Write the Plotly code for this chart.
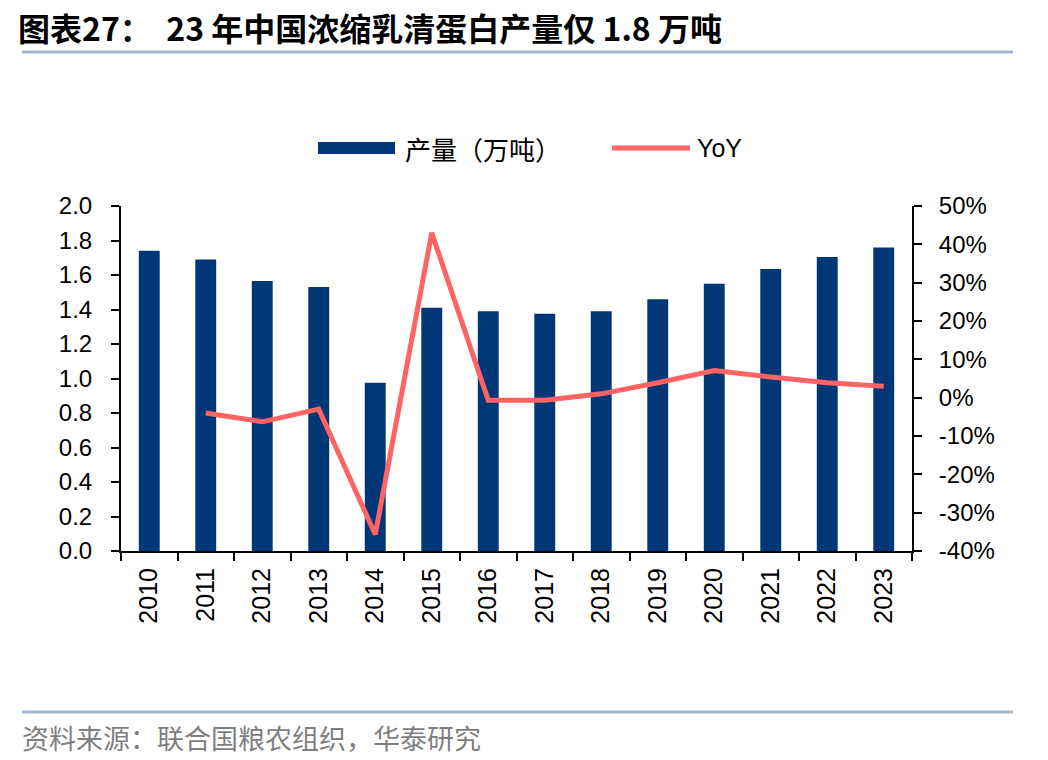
import plotly.graph_objects as go

years = ["2010", "2011", "2012", "2013", "2014", "2015", "2016",
         "2017", "2018", "2019", "2020", "2021", "2022", "2023"]
output_wt = [1.74, 1.69, 1.565, 1.53, 0.975, 1.41, 1.39,
             1.375, 1.39, 1.46, 1.55, 1.635, 1.705, 1.76]
yoy_pct = [None, -4.0, -6.3, -3.0, -35.7, 43.0, -0.7,
           -0.7, 1.0, 3.9, 7.1, 5.4, 3.9, 3.0]
left_ticks = [0.0, 0.2, 0.4, 0.6, 0.8, 1.0, 1.2, 1.4, 1.6, 1.8, 2.0]
left_labels = ["0.0", "0.2", "0.4", "0.6", "0.8", "1.0", "1.2", "1.4", "1.6", "1.8", "2.0"]
right_ticks = [-40, -30, -20, -10, 0, 10, 20, 30, 40, 50]
right_labels = ["-40%", "-30%", "-20%", "-10%", "0%", "10%", "20%", "30%", "40%", "50%"]

W, H = 1048, 760
L, R, T, B = 121, 912, 206, 551


def px(x):
    return (x - L) / (R - L)


def py(y):
    return (B - y) / (B - T)


BLUE = "#003777"
RED = "#FF6464"
NUM_FONT = "Liberation Sans, Arial, sans-serif"
CJK_FONT = "Noto Sans CJK SC, sans-serif"
RULE = "#A3B5CB"

fig = go.Figure()
fig.add_trace(go.Bar(
    x=years, y=output_wt, name="产量（万吨）",
    marker=dict(color=BLUE, line=dict(width=0)),
    yaxis="y",
))
fig.add_trace(go.Scatter(
    x=years, y=yoy_pct, name="YoY", mode="lines",
    line=dict(color=RED, width=5),
    yaxis="y2",
))

axis_common = dict(
    showline=True, linecolor="black", linewidth=2,
    ticks="outside", ticklen=8, tickwidth=2, tickcolor="black",
    showgrid=False, zeroline=False, automargin=False,
    tickfont=dict(family=NUM_FONT, size=24, color="black"),
)

fig.update_layout(
    width=W, height=H,
    margin=dict(l=L, r=W - R, t=T, b=H - B, pad=0, autoexpand=False),
    paper_bgcolor="white", plot_bgcolor="white",
    bargap=0.63,
    font=dict(family=NUM_FONT, size=24, color="black"),
    showlegend=False,
    title=dict(
        text="<b>图表27：  23 年中国浓缩乳清蛋白产量仅 1.8 万吨</b>",
        x=18 / W, xref="container", xanchor="left",
        y=1 - 30 / H, yref="container", yanchor="middle",
        font=dict(family=CJK_FONT, size=32, color="black"),
    ),
    xaxis=dict(
        type="category", categoryorder="array", categoryarray=years,
        tickson="boundaries", tickangle=-90, ticklabelstandoff=5,
        **{**axis_common, "tickfont": dict(family=NUM_FONT, size=25, color="black")},
    ),
    yaxis=dict(
        range=[0, 2.0], tickmode="array", tickvals=left_ticks, ticktext=left_labels,
        ticklabelstandoff=14,
        **axis_common,
    ),
    yaxis2=dict(
        range=[-40, 50], tickmode="array", tickvals=right_ticks, ticktext=right_labels,
        overlaying="y", side="right", ticklabelstandoff=12,
        **axis_common,
    ),
    shapes=[
        # header / footer rules
        dict(type="line", xref="paper", yref="paper",
             x0=px(22), x1=px(1013), y0=py(52), y1=py(52),
             line=dict(color=RULE, width=3)),
        dict(type="line", xref="paper", yref="paper",
             x0=px(22), x1=px(1013), y0=py(712), y1=py(712),
             line=dict(color=RULE, width=3)),
        # legend swatches
        dict(type="rect", xref="paper", yref="paper",
             x0=px(318), x1=px(395), y0=py(154), y1=py(142),
             fillcolor=BLUE, line=dict(width=0)),
        dict(type="line", xref="paper", yref="paper",
             x0=px(612), x1=px(690), y0=py(148), y1=py(148),
             line=dict(color=RED, width=5)),
    ],
    annotations=[
        dict(text="产量（万吨）", xref="paper", yref="paper",
             x=px(403), y=py(148), xanchor="left", yanchor="middle",
             showarrow=False,
             font=dict(family=CJK_FONT, size=26, color="black")),
        dict(text="YoY", xref="paper", yref="paper",
             x=px(695), y=py(148), xanchor="left", yanchor="middle",
             showarrow=False,
             font=dict(family=NUM_FONT, size=25, color="black")),
        dict(text="资料来源：联合国粮农组织，华泰研究",
             xref="paper", yref="paper", x=px(20), y=py(737),
             xanchor="left", yanchor="middle", showarrow=False,
             font=dict(family=CJK_FONT, size=27, color="#7F7F7F")),
    ],
)

fig.write_html("out.html", config={"displayModeBar": False},
               post_script="document.body.style.margin='0';")
